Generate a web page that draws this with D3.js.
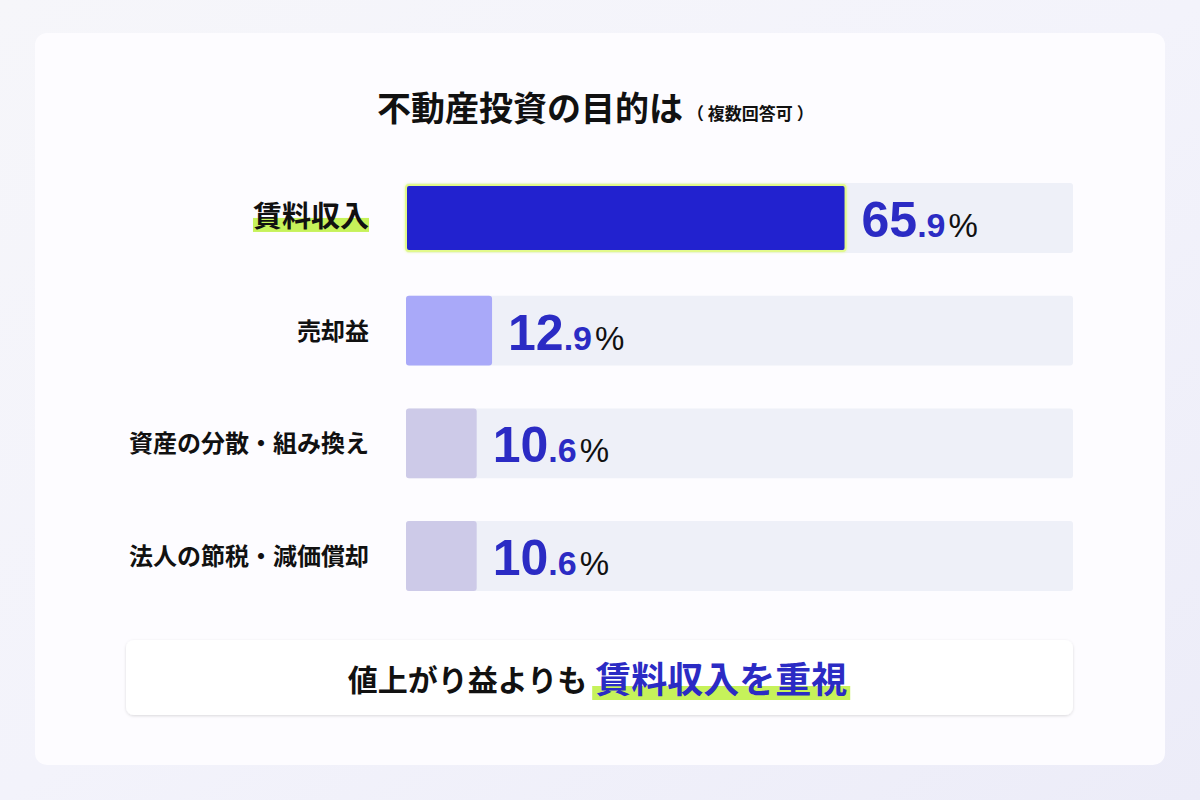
<!DOCTYPE html>
<html><head><meta charset="utf-8">
<script src="https://cdn.jsdelivr.net/npm/d3@7"></script>
<style>
html,body{margin:0;padding:0;}
body{width:1200px;height:800px;overflow:hidden;background:#f4f4f9;font-family:"Noto Sans CJK JP","Noto Sans",sans-serif;}
</style></head>
<body>
<svg id="c" width="1200" height="800"></svg>
<script>
const categories = ["賃料収入","売却益","資産の分散・組み換え","法人の節税・減価償却"];
const values = [65.9, 12.9, 10.6, 10.6];
const title = "不動産投資の目的は";
const subtitle = "（ 複数回答可 ）";
const noteBlack = "値上がり益よりも";
const noteBlue = "賃料収入を重視";
const barColors = ["#2323cf","#a9a9f9","#cdcae8","#cdcae8"];

const svg = d3.select("#c");
const defs = svg.append("defs");
const bg = defs.append("linearGradient").attr("id","bg").attr("x1",0).attr("y1",0).attr("x2",1).attr("y2",1);
bg.append("stop").attr("offset","0%").attr("stop-color","#f6f6fa");
bg.append("stop").attr("offset","50%").attr("stop-color","#f3f3fb");
bg.append("stop").attr("offset","100%").attr("stop-color","#ececf8");
svg.append("rect").attr("width",1200).attr("height",800).attr("fill","url(#bg)");
const sh = defs.append("filter").attr("id","sh").attr("x","-10%").attr("y","-30%").attr("width","120%").attr("height","160%");
sh.append("feDropShadow").attr("dx",0).attr("dy",1).attr("stdDeviation",1.5).attr("flood-color","#000").attr("flood-opacity",0.14);
const glow = defs.append("filter").attr("id","glow").attr("x","-5%").attr("y","-20%").attr("width","110%").attr("height","140%");
glow.append("feDropShadow").attr("dx",0).attr("dy",0).attr("stdDeviation",1.5).attr("flood-color","#e6fa9a").attr("flood-opacity",1);

// card
svg.append("rect").attr("x",35).attr("y",33).attr("width",1130).attr("height",732).attr("rx",12).attr("fill","#fdfcff");

// title
const t = svg.append("text").attr("x",377).attr("y",121).attr("font-weight",700).attr("fill","#111");
t.append("tspan").attr("font-size",34).text(title);
t.append("tspan").attr("font-size",17).attr("dx",4).attr("dy",-1).text(subtitle);

const x = d3.scaleLinear().domain([0,100]).range([406,1073]);
const y = d3.scaleBand().domain(categories).range([183,591]).paddingInner(0.38).paddingOuter(0);

const rows = svg.selectAll("g.row").data(categories).join("g").attr("class","row");
// track
rows.append("rect").attr("x",x(0)).attr("y",d=>y(d)).attr("width",x(100)-x(0)).attr("height",y.bandwidth())
  .attr("rx",3).attr("fill","#eef0f8");
// bars
rows.append("rect").attr("x",x(0)).attr("y",(d,i)=>y(d)+(i===0?2:0)).attr("width",(d,i)=>x(values[i])-x(0))
  .attr("height",(d,i)=>y.bandwidth()-(i===0?4:0)).attr("rx",3)
  .attr("fill",(d,i)=>barColors[i])
  .attr("stroke",(d,i)=>i===0?"#e2f98c":"none").attr("stroke-width",2)
  .attr("filter",(d,i)=>i===0?"url(#glow)":null);

// category labels + values
rows.each(function(d,i){
  const g = d3.select(this);
  const cy = y(d)+y.bandwidth()/2;
  if(i===0){
    const tx = g.append("text").attr("x",369).attr("y",cy+9).attr("text-anchor","end")
      .attr("font-size",29).attr("font-weight",700).attr("fill","#111").text(d);
    const bb = tx.node().getBBox();
    g.insert("rect","text").attr("x",bb.x).attr("y",cy).attr("width",bb.width).attr("height",14).attr("fill","#c6f25a");
  } else {
    g.append("text").attr("x",369).attr("y",cy+9).attr("text-anchor","end")
      .attr("font-size",24).attr("font-weight",700).attr("fill","#111").text(d);
  }
  const v = values[i];
  const parts = v.toFixed(1).split(".");
  const vt = g.append("text").attr("x",x(v)+16).attr("y",cy+19).attr("font-family","'Liberation Sans', Arial, sans-serif")
    .attr("font-weight",700).attr("fill","#2b2bc4");
  vt.append("tspan").attr("font-size",50).text(parts[0]);
  vt.append("tspan").attr("font-size",34).text("."+parts[1]);
  vt.append("tspan").attr("font-size",33).attr("font-weight",400).attr("fill","#111").attr("dx",3).text("%");
});

// bottom note box
svg.append("rect").attr("x",126).attr("y",640).attr("width",947).attr("height",75).attr("rx",8)
  .attr("fill","#ffffff").attr("filter","url(#sh)");
const note = svg.append("g");
const n1 = note.append("text").attr("x",343).attr("y",691).attr("font-size",30).attr("font-weight",700).attr("fill","#111").text(noteBlack);
const w1 = n1.node().getComputedTextLength();
const hl = note.append("rect");
const n2 = note.append("text").attr("x",343+w1+8).attr("y",693).attr("font-size",36).attr("font-weight",700).attr("fill","#2b2bc4").text(noteBlue);
const b2 = n2.node().getBBox();
hl.attr("x",b2.x-3).attr("y",686).attr("width",b2.width+6).attr("height",14).attr("fill","#c6f25a");
// recenter note
const nb = note.node().getBBox();
note.attr("transform",`translate(${599-(nb.x+nb.width/2)},0)`);
</script>
</body></html>
